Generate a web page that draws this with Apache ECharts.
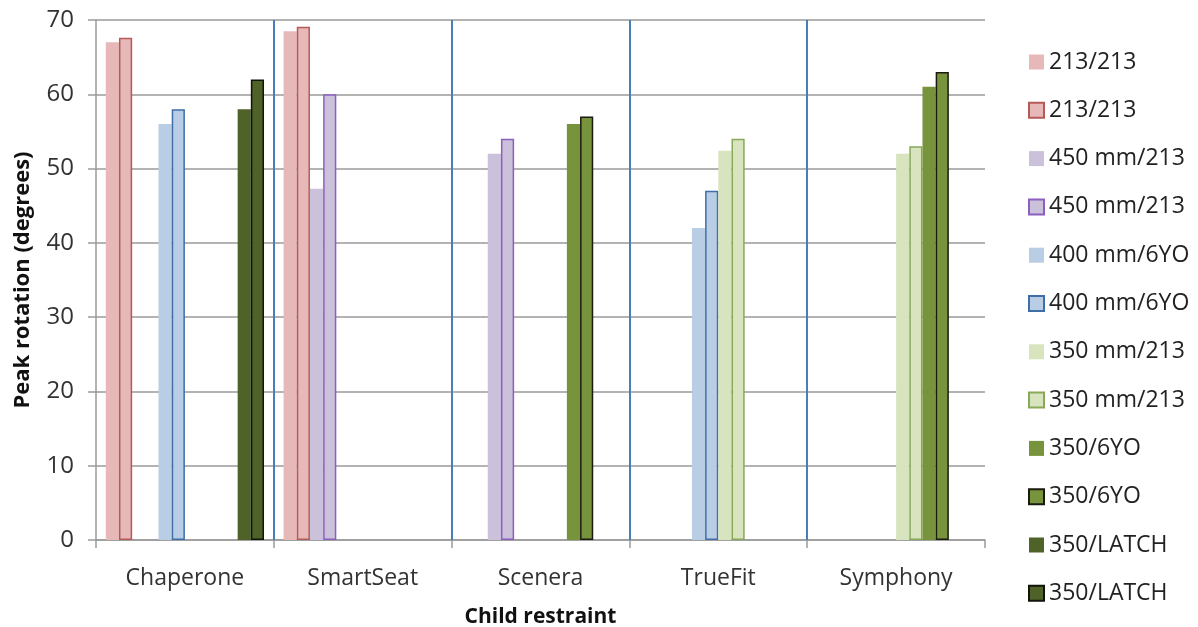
<!DOCTYPE html>
<html>
<head>
<meta charset="utf-8">
<script src="https://cdn.jsdelivr.net/npm/echarts@6/dist/echarts.min.js"></script>
<style>
  html, body { margin: 0; padding: 0; background: #fff; overflow: hidden; }
  #chart { width: 1198px; height: 627px; }
</style>
</head>
<body>
<div id="chart"></div>
<script>
// categories
const restraints = ['Chaperone', 'SmartSeat', 'Scenera', 'TrueFit', 'Symphony']

// peak rotation values (degrees), null = not tested
const v213a = [67, 68.5, null, null, null]
const v213b = [67.6, 69.1, null, null, null]
const v450a = [null, 47.3, 52, null, null]
const v450b = [null, 60, 54, null, null]
const v400a = [56, null, null, 42, null]
const v400b = [58, null, null, 47, null]
const v350mmA = [null, null, null, 52.4, 52]
const v350mmB = [null, null, null, 54, 53]
const v6yoA = [null, null, 56, null, 61]
const v6yoB = [null, null, 57, null, 63]
const vLatchA = [58, null, null, null, null]
const vLatchB = [62, null, null, null, null]

// category boundaries for the blue dividers
const dividers = [1, 2, 3, 4]

const yTicks = [0, 10, 20, 30, 40, 50, 60, 70]

const chart = echarts.init(document.getElementById('chart'))

const font = '"Open Sans", sans-serif'

// bar helper: filled bar, optionally with a border
const bar = (name, data, fill, border) => ({
  name: name,
  type: 'bar',
  data: data,
  barGap: '0%',
  barCategoryGap: '11%',
  itemStyle: border
    ? { color: fill, borderColor: border, borderWidth: 1.5 }
    : { color: fill }
})

const option = {
  backgroundColor: '#fff',
  animation: false,
  textStyle: { fontFamily: font },
  grid: {
    left: 96,
    right: 213,
    top: 20,
    bottom: 87,
    containLabel: false,
    outerBoundsMode: 'none'
  },
  legend: {
    orient: 'vertical',
    left: 1023,
    top: 45,
    icon: 'rect',
    itemWidth: 15,
    itemHeight: 15,
    itemGap: 24.3,
    textStyle: {
      fontSize: 23,
      lineHeight: 24,
      color: '#222',
      fontFamily: font
    }
  },
  xAxis: [
    {
      type: 'category',
      data: restraints,
      name: 'Child restraint',
      nameLocation: 'middle',
      nameGap: 67,
      nameTextStyle: { fontSize: 21, fontWeight: 'bold', color: '#111', fontFamily: font },
      axisLine: { lineStyle: { color: '#9a9a9a', width: 1.5 } },
      axisTick: { show: true, length: 8, lineStyle: { color: '#9a9a9a', width: 1.5 } },
      axisLabel: { fontSize: 23, color: '#333', margin: 27 },
      splitLine: { show: false }
    },
    {
      type: 'value',
      min: 0,
      max: 5,
      show: false
    }
  ],
  yAxis: {
    type: 'value',
    min: yTicks[0],
    max: yTicks[yTicks.length - 1],
    interval: 10,
    name: 'Peak rotation (degrees)',
    nameLocation: 'middle',
    nameGap: 62,
    nameTextStyle: { fontSize: 22, fontWeight: 'bold', color: '#111', fontFamily: font },
    axisLine: { show: true, lineStyle: { color: '#9a9a9a', width: 1.5 } },
    axisTick: { show: true, length: 8, lineStyle: { color: '#9a9a9a', width: 1.5 } },
    axisLabel: { fontSize: 24, color: '#333', margin: 22 },
    splitLine: { lineStyle: { color: '#9a9a9a', width: 1.5 } }
  },
  series: [
    bar('213/213', v213a, '#e6b9b8'),
    bar('213/213 ', v213b, '#e6b9b8', '#b65a58'),
    bar('450 mm/213', v450a, '#ccc1da'),
    bar('450 mm/213 ', v450b, '#ccc1da', '#8a5fbf'),
    bar('400 mm/6YO', v400a, '#b9cde5'),
    bar('400 mm/6YO ', v400b, '#b9cde5', '#3f6ea8'),
    bar('350 mm/213', v350mmA, '#d7e4bd'),
    bar('350 mm/213 ', v350mmB, '#d7e4bd', '#88a85a'),
    bar('350/6YO', v6yoA, '#77933c'),
    bar('350/6YO ', v6yoB, '#77933c', '#1a1a10'),
    bar('350/LATCH', vLatchA, '#4f6228'),
    bar('350/LATCH ', vLatchB, '#4f6228', '#10140a'),
    {
      // divider lines between restraints
      type: 'line',
      xAxisIndex: 1,
      data: [],
      silent: true,
      markLine: {
        symbol: 'none',
        silent: true,
        label: { show: false },
        lineStyle: { color: '#4a7ebb', width: 2, type: 'solid' },
        data: dividers.map(d => ({ xAxis: d }))
      }
    }
  ]
}

chart.setOption(option)
</script>
</body>
</html>
